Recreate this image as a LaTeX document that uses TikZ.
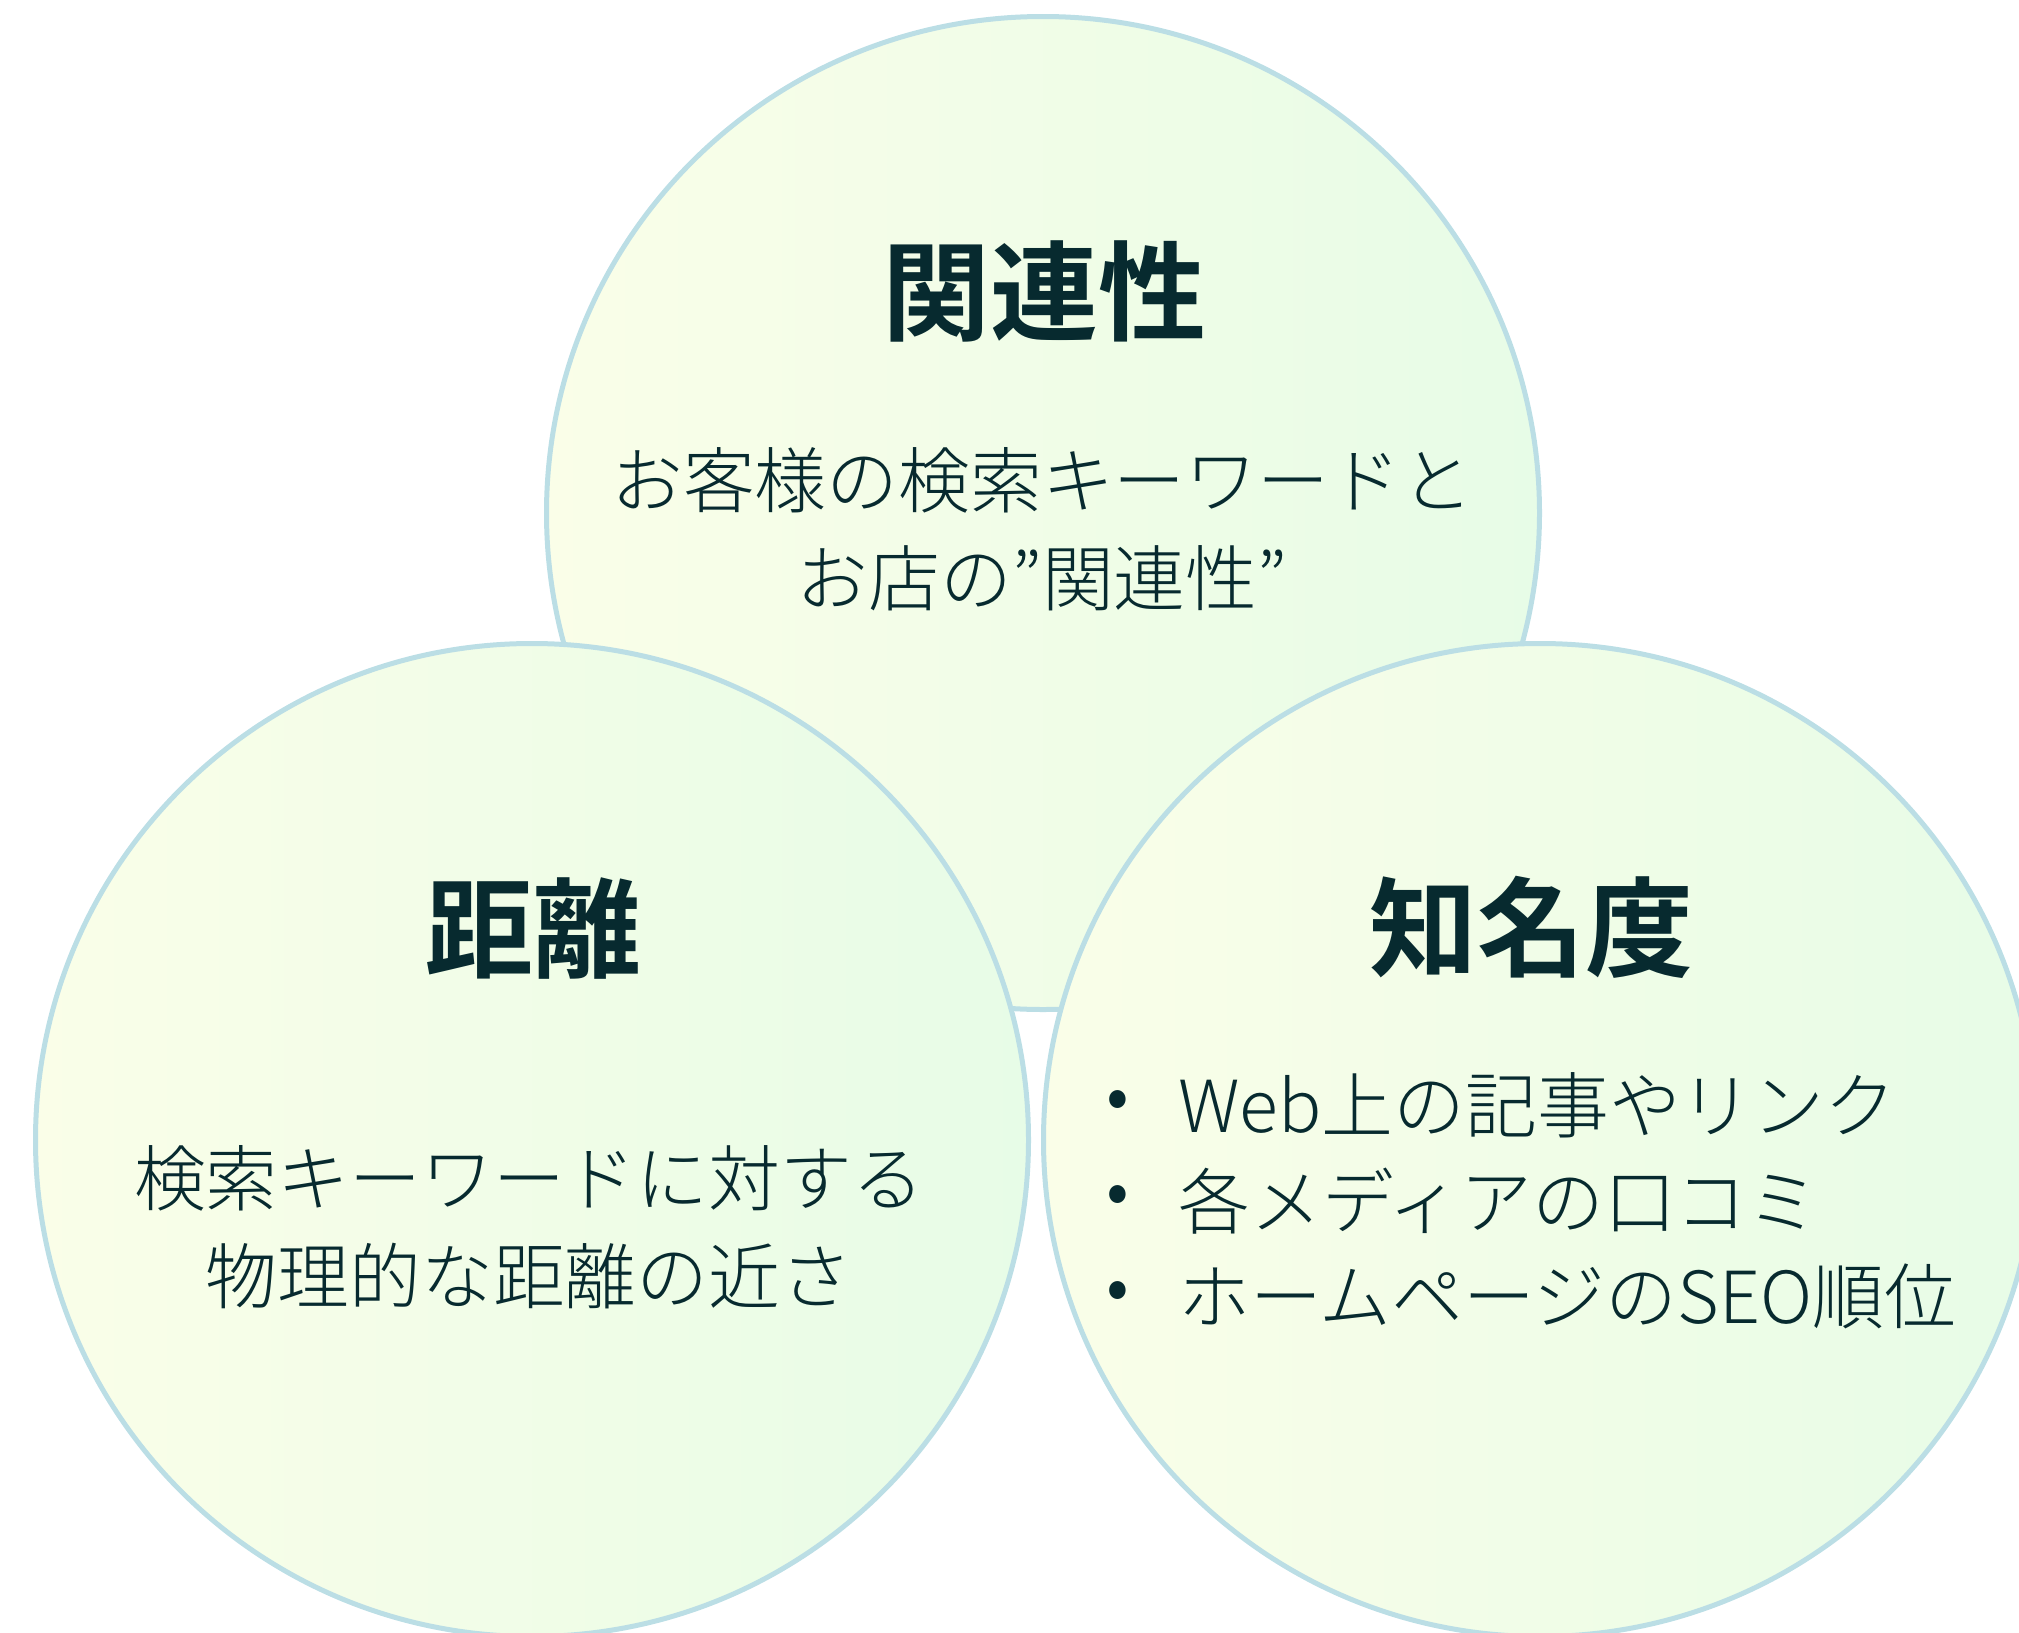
\documentclass[tikz,border=0pt]{standalone}
\usepackage{fontspec}
\setmainfont{Noto Sans CJK JP}[BoldFont={Noto Sans CJK JP Bold}]
\newfontfamily\lightfont{Noto Sans CJK JP Light}
\definecolor{ink}{HTML}{072A2F}
\definecolor{rim}{HTML}{BBDEE5}
\definecolor{pale}{HTML}{FAFEE8}
\definecolor{mint}{HTML}{E7FCE7}

\begin{document}
\begin{tikzpicture}[x=0.5pt,y=-0.5pt,
  ball/.style={circle,draw=rim,line width=2.5pt,left color=pale,right color=mint,
    minimum size=496.5pt,inner sep=0pt},
  heading/.style={text=ink,inner sep=0pt,font=\fontsize{54}{60}\selectfont\bfseries},
  body/.style={text=ink,inner sep=0pt,align=center,font=\fontsize{35.9}{49}\selectfont\lightfont}]
  \useasboundingbox (0,0) rectangle (2019,1633);
  \clip (0,0) rectangle (2019,1633);
  % three circles, top one underneath
  \node[ball] (relc) at (1043,513) {};
  \node[ball] (distc) at (532,1140) {};
  \node[ball] (promc) at (1540,1140) {};
  % relevance
  \node[heading] (relevance) at (1044,291) {関連性};
  \node[body] (reltext) at (1042,529) {お客様の検索キーワードと\\お店の”関連性”};
  % distance
  \node[heading] (distance) at (533,929) {距離};
  \node[body] (disttext) at (529,1227) {検索キーワードに対する\\物理的な距離の近さ};
  % prominence
  \node[heading] (prominence) at (1531,927) {知名度};
  \foreach \txt [count=\i] in {Web上の記事やリンク,各メディアの口コミ,ホームページのSEO順位} {
    \node[body,anchor=west] (item\i) at (1178,1010+95.5*\i) {\txt};
    \node[body] (dot\i) at (1118,1010+95.5*\i) {•};
  }
\end{tikzpicture}
\end{document}
